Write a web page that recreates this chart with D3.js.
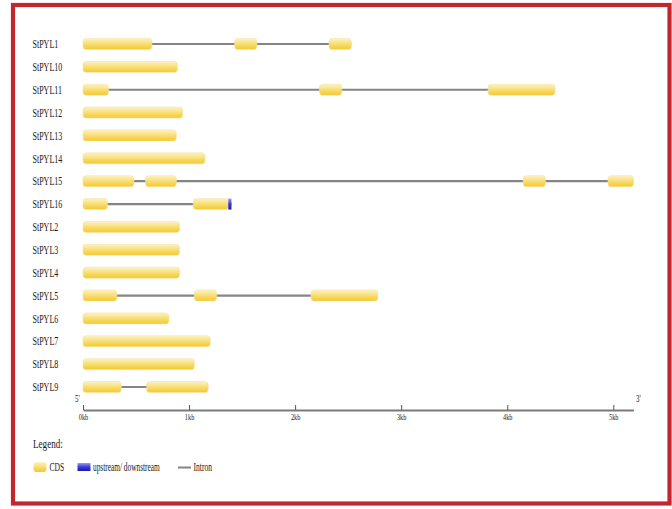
<!DOCTYPE html>
<html>
<head>
<meta charset="utf-8">
<script src="https://cdn.jsdelivr.net/npm/d3@7/dist/d3.min.js"></script>
<style>
  html, body { margin: 0; padding: 0; background: #fff; }
  svg { display: block; }
  text { font-family: "Liberation Serif", "Times New Roman", serif; fill: #1a1a1a; }
</style>
</head>
<body>
<svg id="chart" width="672" height="509"></svg>
<script>
// Gene names, top to bottom
const geneNames = ["StPYL1", "StPYL10", "StPYL11", "StPYL12", "StPYL13", "StPYL14",
  "StPYL15", "StPYL16", "StPYL2", "StPYL3", "StPYL4", "StPYL5", "StPYL6",
  "StPYL7", "StPYL8", "StPYL9"];

// CDS exons per gene, [start, end] in kb
const cdsSegments = [
  [[0, 0.65], [1.43, 1.64], [2.32, 2.53]],
  [[0, 0.89]],
  [[0, 0.24], [2.23, 2.44], [3.82, 4.45]],
  [[0, 0.94]],
  [[0, 0.88]],
  [[0, 1.15]],
  [[0, 0.48], [0.59, 0.88], [4.15, 4.36], [4.95, 5.19]],
  [[0, 0.23], [1.04, 1.37]],
  [[0, 0.91]],
  [[0, 0.91]],
  [[0, 0.91]],
  [[0, 0.32], [1.05, 1.26], [2.15, 2.78]],
  [[0, 0.81]],
  [[0, 1.20]],
  [[0, 1.05]],
  [[0, 0.36], [0.60, 1.18]]
];

// Upstream / downstream regions, [start, end] in kb
const utrSegments = [
  [], [], [], [], [], [], [],
  [[1.37, 1.40]],
  [], [], [], [], [], [], [], []
];

// Ruler
const tickValues = [0, 1, 2, 3, 4, 5];
const tickLabels = ["0kb", "1kb", "2kb", "3kb", "4kb", "5kb"];
const rulerEnd = 5.19;

// Legend entries
const legendLabels = ["CDS", "upstream/ downstream", "Intron"];

const svg = d3.select("#chart");

// Gradients for CDS and UTR boxes
const defs = svg.append("defs");
const gCds = defs.append("linearGradient").attr("id", "cdsGrad")
  .attr("x1", 0).attr("y1", 0).attr("x2", 0).attr("y2", 1);
gCds.append("stop").attr("offset", "0%").attr("stop-color", "#fcf2c8");
gCds.append("stop").attr("offset", "55%").attr("stop-color", "#f8dc6a");
gCds.append("stop").attr("offset", "100%").attr("stop-color", "#f4c82e");
const gUtr = defs.append("linearGradient").attr("id", "utrGrad")
  .attr("x1", 0).attr("y1", 0).attr("x2", 0).attr("y2", 1);
gUtr.append("stop").attr("offset", "0%").attr("stop-color", "#9a9af0");
gUtr.append("stop").attr("offset", "50%").attr("stop-color", "#3a3ad8");
gUtr.append("stop").attr("offset", "100%").attr("stop-color", "#1818b0");

// Outer frame
svg.append("rect")
  .attr("x", 13).attr("y", 5).attr("width", 656.5).attr("height", 498.5)
  .attr("fill", "none").attr("stroke", "#c0272f").attr("stroke-width", 4.2);

const x = d3.scaleLinear().domain([0, rulerEnd]).range([83, 83 + rulerEnd * 106.06]);
const y = d3.scalePoint().domain(geneNames).range([44, 387]);
const boxH = 11;

// Gene rows
const rows = svg.append("g").selectAll("g.gene")
  .data(geneNames.map((name, i) => ({ name, cds: cdsSegments[i], utr: utrSegments[i] })))
  .join("g").attr("class", "gene")
  .attr("transform", d => `translate(0,${y(d.name)})`);

// Condensed gene labels
rows.append("g")
  .attr("transform", "translate(32.5,4.2) scale(0.64,1)")
  .append("text")
  .attr("font-size", 12.5)
  .text(d => d.name);

// Introns span the gene body behind the boxes
rows.each(function (d) {
  const all = d.cds.concat(d.utr);
  if (all.length > 1) {
    d3.select(this).append("line")
      .attr("x1", x(d3.min(all, s => s[0]))).attr("x2", x(d3.max(all, s => s[1])))
      .attr("y1", 0).attr("y2", 0)
      .attr("stroke", "#858585").attr("stroke-width", 2.2);
  }
});

rows.selectAll("rect.cds")
  .data(d => d.cds)
  .join("rect").attr("class", "cds")
  .attr("x", s => x(s[0]))
  .attr("width", s => x(s[1]) - x(s[0]))
  .attr("y", -boxH / 2).attr("height", boxH)
  .attr("rx", 3).attr("ry", 3)
  .attr("fill", "url(#cdsGrad)")
  .attr("stroke", "#f7e3a0").attr("stroke-width", 0.6);

rows.selectAll("rect.utr")
  .data(d => d.utr)
  .join("rect").attr("class", "utr")
  .attr("x", s => x(s[0]))
  .attr("width", s => x(s[1]) - x(s[0]))
  .attr("y", -boxH / 2).attr("height", boxH)
  .attr("fill", "url(#utrGrad)");

// Ruler axis with upward ticks
const axis = d3.axisBottom(x)
  .tickValues(tickValues)
  .tickFormat((d, i) => tickLabels[i])
  .tickSizeInner(-5)
  .tickSizeOuter(0)
  .tickPadding(4);

const axG = svg.append("g").attr("transform", "translate(0,410)").call(axis);
axG.select(".domain").attr("stroke", "#7a7a7a").attr("stroke-width", 2);
axG.selectAll(".tick line").attr("stroke", "#555").attr("stroke-width", 1);
axG.selectAll(".tick text")
  .attr("font-family", "Liberation Serif, serif")
  .attr("font-size", 9)
  .attr("fill", "#1a1a1a")
  .attr("transform", "scale(0.7,1)");

svg.append("g").attr("transform", "translate(75,402) scale(0.7,1)")
  .append("text").attr("font-size", 10).text("5'");
svg.append("g").attr("transform", "translate(636,402) scale(0.7,1)")
  .append("text").attr("font-size", 10).text("3'");

// Legend
svg.append("g").attr("transform", "translate(33,448) scale(0.7,1)")
  .append("text").attr("font-size", 13).text("Legend:");

const lg = svg.append("g").attr("transform", "translate(0,467)");
lg.append("rect").attr("x", 33.5).attr("y", -5).attr("width", 13).attr("height", 10)
  .attr("rx", 3).attr("fill", "url(#cdsGrad)");
lg.append("g").attr("transform", "translate(49.5,4) scale(0.66,1)")
  .append("text").attr("font-size", 11.5).text(legendLabels[0]);
lg.append("rect").attr("x", 77.5).attr("y", -4).attr("width", 13).attr("height", 8)
  .attr("fill", "url(#utrGrad)");
lg.append("g").attr("transform", "translate(93,4) scale(0.64,1)")
  .append("text").attr("font-size", 11.5).text(legendLabels[1]);
lg.append("line").attr("x1", 178).attr("x2", 191).attr("y1", 0.5).attr("y2", 0.5)
  .attr("stroke", "#858585").attr("stroke-width", 2);
lg.append("g").attr("transform", "translate(193.5,4) scale(0.66,1)")
  .append("text").attr("font-size", 11.5).text(legendLabels[2]);
</script>
</body>
</html>
